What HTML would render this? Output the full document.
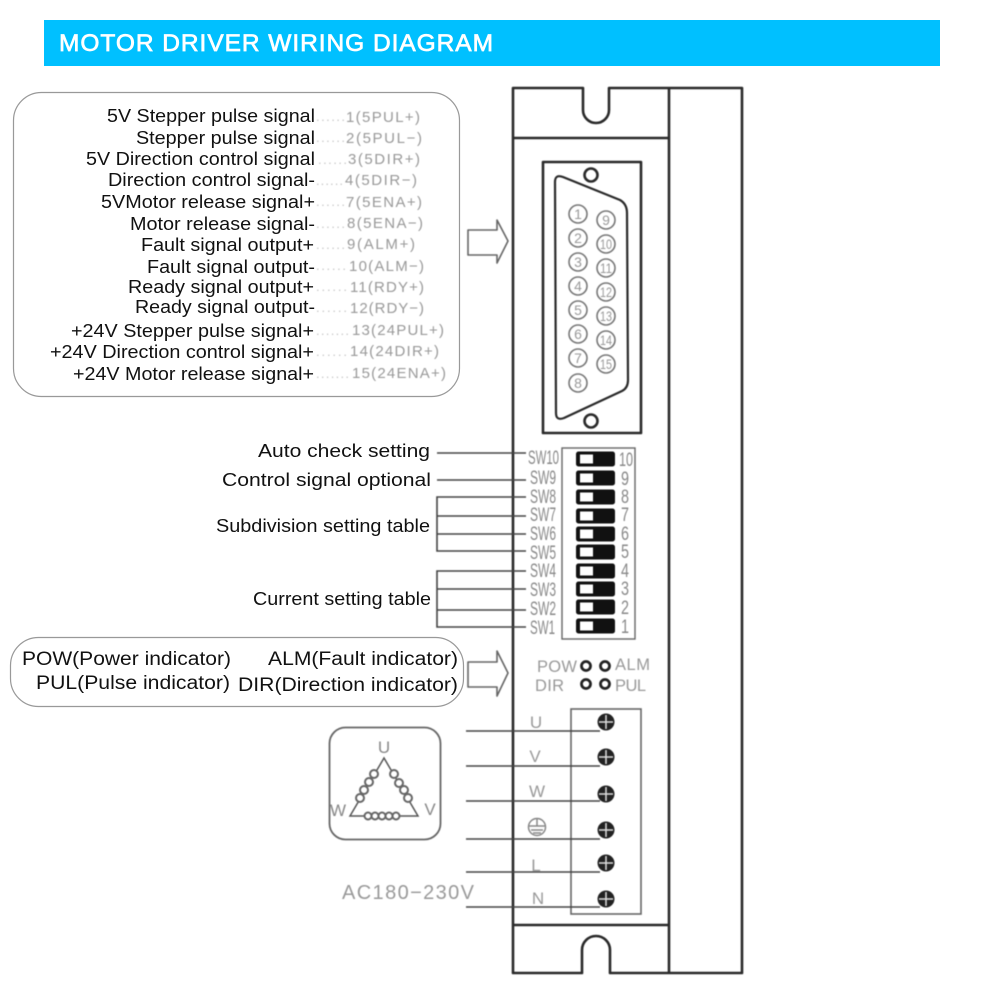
<!DOCTYPE html>
<html lang="en"><head><meta charset="utf-8"><title>Motor Driver Wiring Diagram</title>
<style>
html,body{margin:0;padding:0;background:#fff}
svg{display:block}
text{font-family:"Liberation Sans",sans-serif}
.b text{font-size:18.5px;fill:#111}
.g text{font-size:15px;fill:#999}
.d text{font-size:13px;fill:#c4c4c4}
.p circle{fill:#fff;stroke:#777;stroke-width:1.6}
.p text{font-size:14px;fill:#999;text-anchor:middle}
.sw rect.o{fill:#111;stroke:#111;stroke-width:1}
.sw rect.i{fill:#fff}
.sl text{font-size:19px;fill:#888;text-anchor:middle}
.soft{filter:blur(.45px)}
</style></head><body>
<svg width="1001" height="1001" viewBox="0 0 1001 1001" xmlns="http://www.w3.org/2000/svg">
<rect width="1001" height="1001" fill="#fff"/>
<rect x="44" y="20" width="896" height="46" fill="#00c0ff"/>
<text x="59" y="51" font-size="24.5" fill="#fff" textLength="434" lengthAdjust="spacing" style="stroke:#fff;stroke-width:.7">MOTOR DRIVER WIRING DIAGRAM</text>

<rect x="13.5" y="92.5" width="446" height="304" rx="28" fill="#fff" stroke="#999" stroke-width="1.2"/>
<g class="b">
<text x="107" y="122" textLength="208" lengthAdjust="spacingAndGlyphs">5V Stepper pulse signal</text>
<text x="136" y="144" textLength="179" lengthAdjust="spacingAndGlyphs">Stepper pulse signal</text>
<text x="86" y="165" textLength="229" lengthAdjust="spacingAndGlyphs">5V Direction control signal</text>
<text x="108" y="186" textLength="207" lengthAdjust="spacingAndGlyphs">Direction control signal-</text>
<text x="101" y="208" textLength="214" lengthAdjust="spacingAndGlyphs">5VMotor release signal+</text>
<text x="130" y="230" textLength="185" lengthAdjust="spacingAndGlyphs">Motor release signal-</text>
<text x="141" y="251" textLength="173" lengthAdjust="spacingAndGlyphs">Fault signal output+</text>
<text x="147" y="273" textLength="168" lengthAdjust="spacingAndGlyphs">Fault signal output-</text>
<text x="128" y="293" textLength="186" lengthAdjust="spacingAndGlyphs">Ready signal output+</text>
<text x="135" y="313" textLength="180" lengthAdjust="spacingAndGlyphs">Ready signal output-</text>
<text x="71" y="337" textLength="243" lengthAdjust="spacingAndGlyphs">+24V Stepper pulse signal+</text>
<text x="50" y="358" textLength="264" lengthAdjust="spacingAndGlyphs">+24V Direction control signal+</text>
<text x="73" y="380" textLength="241" lengthAdjust="spacingAndGlyphs">+24V Motor release signal+</text>
</g>
<g class="soft">
<g class="d">
<text x="316" y="121" textLength="29">......</text><text x="316" y="142" textLength="29">......</text><text x="318" y="164" textLength="29">......</text><text x="316" y="185" textLength="27">......</text><text x="316" y="206" textLength="29">......</text><text x="316" y="228" textLength="29">......</text><text x="316" y="249" textLength="29">......</text><text x="316" y="270" textLength="30">......</text><text x="316" y="291" textLength="31">......</text><text x="316" y="312" textLength="31">......</text><text x="316" y="335" textLength="33">.......</text><text x="316" y="356" textLength="31">......</text><text x="316" y="378" textLength="33">.......</text>
</g>
<g class="g">
<text x="346" y="122" textLength="74">1(5PUL+)</text>
<text x="346" y="143" textLength="76">2(5PUL−)</text>
<text x="348" y="164" textLength="72">3(5DIR+)</text>
<text x="345" y="185" textLength="72">4(5DIR−)</text>
<text x="346" y="207" textLength="76">7(5ENA+)</text>
<text x="347" y="228" textLength="76">8(5ENA−)</text>
<text x="347" y="249" textLength="68">9(ALM+)</text>
<text x="349" y="271" textLength="75">10(ALM−)</text>
<text x="350" y="292" textLength="74">11(RDY+)</text>
<text x="350" y="313" textLength="74">12(RDY−)</text>
<text x="352" y="335" textLength="92">13(24PUL+)</text>
<text x="350" y="356" textLength="89">14(24DIR+)</text>
<text x="352" y="378" textLength="94">15(24ENA+)</text>
</g>
<path d="M468 230H497V220L508 241L497 263V255H468Z" fill="#fff" stroke="#666" stroke-width="1.6" stroke-linejoin="round"/>

<g fill="none" stroke="#2a2a2a" stroke-width="2.6" stroke-linejoin="round">
<path d="M513 88H583V110A13 13 0 0 0 609 110V88H742V973H610V950A14 14 0 0 0 582 950V973H513Z"/>
<path d="M669 88V973M513 138H669M513 925H669"/>
<rect x="543" y="162" width="98" height="271"/>
<path d="M555 182Q555 174 563 177L620 200Q627 204 627 213L628 380Q628 388 622 391L564 418Q556 421 556 413Z" stroke-width="2.2"/>
<circle cx="591" cy="175" r="6.5"/><circle cx="591" cy="421" r="6.5"/>
</g>
<g class="p">
<circle cx="578" cy="214" r="9"/><text x="578" y="219">1</text>
<circle cx="578" cy="238" r="9"/><text x="578" y="243">2</text>
<circle cx="578" cy="262" r="9"/><text x="578" y="267">3</text>
<circle cx="578" cy="286" r="9"/><text x="578" y="291">4</text>
<circle cx="578" cy="310" r="9"/><text x="578" y="315">5</text>
<circle cx="578" cy="334" r="9"/><text x="578" y="339">6</text>
<circle cx="578" cy="358" r="9"/><text x="578" y="363">7</text>
<circle cx="578" cy="383" r="9"/><text x="578" y="388">8</text>
<circle cx="606" cy="220" r="9"/><text x="606" y="225">9</text>
<circle cx="606" cy="244" r="9"/><text x="606" y="249" textLength="12" lengthAdjust="spacingAndGlyphs">10</text>
<circle cx="606" cy="268" r="9"/><text x="606" y="273" textLength="12" lengthAdjust="spacingAndGlyphs">11</text>
<circle cx="606" cy="292" r="9"/><text x="606" y="297" textLength="12" lengthAdjust="spacingAndGlyphs">12</text>
<circle cx="606" cy="316" r="9"/><text x="606" y="321" textLength="12" lengthAdjust="spacingAndGlyphs">13</text>
<circle cx="606" cy="340" r="9"/><text x="606" y="345" textLength="12" lengthAdjust="spacingAndGlyphs">14</text>
<circle cx="606" cy="364" r="9"/><text x="606" y="369" textLength="12" lengthAdjust="spacingAndGlyphs">15</text>
</g>
</g>

<g font-size="18.5" fill="#111">
<text x="258" y="457" textLength="172" lengthAdjust="spacingAndGlyphs">Auto check setting</text>
<text x="222" y="486" textLength="209" lengthAdjust="spacingAndGlyphs">Control signal optional</text>
<text x="216" y="532" textLength="214" lengthAdjust="spacingAndGlyphs">Subdivision setting table</text>
<text x="253" y="605" textLength="178" lengthAdjust="spacingAndGlyphs">Current setting table</text>
</g>
<g class="soft">
<path fill="none" stroke="#444" stroke-width="1.6" d="M437 453H526M437 480H526M526 497H437V551H526M437 516H526M437 534H526M526 571H437V627H526M437 589H526M437 610H526"/>
<g class="sl">
<text x="528" y="464" style="text-anchor:start" textLength="31" lengthAdjust="spacingAndGlyphs">SW10</text>
<text x="530" y="484" style="text-anchor:start" textLength="26" lengthAdjust="spacingAndGlyphs">SW9</text>
<text x="530" y="503" style="text-anchor:start" textLength="26" lengthAdjust="spacingAndGlyphs">SW8</text>
<text x="530" y="521" style="text-anchor:start" textLength="26" lengthAdjust="spacingAndGlyphs">SW7</text>
<text x="530" y="540" style="text-anchor:start" textLength="26" lengthAdjust="spacingAndGlyphs">SW6</text>
<text x="530" y="559" style="text-anchor:start" textLength="26" lengthAdjust="spacingAndGlyphs">SW5</text>
<text x="530" y="577" style="text-anchor:start" textLength="26" lengthAdjust="spacingAndGlyphs">SW4</text>
<text x="530" y="596" style="text-anchor:start" textLength="26" lengthAdjust="spacingAndGlyphs">SW3</text>
<text x="530" y="615" style="text-anchor:start" textLength="26" lengthAdjust="spacingAndGlyphs">SW2</text>
<text x="530" y="634" style="text-anchor:start" textLength="25" lengthAdjust="spacingAndGlyphs">SW1</text>
</g>
<rect x="562" y="448" width="73" height="191" fill="none" stroke="#666" stroke-width="1.4"/>
<g class="sw">
<rect class="o" x="576.5" y="452" width="38" height="14" rx="2"/><rect class="i" x="580" y="454.5" width="13" height="9"/>
<rect class="o" x="576.5" y="471" width="38" height="14" rx="2"/><rect class="i" x="580" y="473.5" width="13" height="9"/>
<rect class="o" x="576.5" y="490" width="38" height="14" rx="2"/><rect class="i" x="580" y="492.5" width="13" height="9"/>
<rect class="o" x="576.5" y="509" width="38" height="14" rx="2"/><rect class="i" x="580" y="511.5" width="13" height="9"/>
<rect class="o" x="576.5" y="527" width="38" height="14" rx="2"/><rect class="i" x="580" y="529.5" width="13" height="9"/>
<rect class="o" x="576.5" y="545" width="38" height="14" rx="2"/><rect class="i" x="580" y="547.5" width="13" height="9"/>
<rect class="o" x="576.5" y="564" width="38" height="14" rx="2"/><rect class="i" x="580" y="566.5" width="13" height="9"/>
<rect class="o" x="576.5" y="582" width="38" height="14" rx="2"/><rect class="i" x="580" y="584.5" width="13" height="9"/>
<rect class="o" x="576.5" y="600" width="38" height="14" rx="2"/><rect class="i" x="580" y="602.5" width="13" height="9"/>
<rect class="o" x="576.5" y="619" width="38" height="14" rx="2"/><rect class="i" x="580" y="621.5" width="13" height="9"/>
</g>
<g class="sl">
<text x="619" y="466" style="text-anchor:start" textLength="14" lengthAdjust="spacingAndGlyphs">10</text>
<text x="621" y="485" style="text-anchor:start" textLength="8" lengthAdjust="spacingAndGlyphs">9</text>
<text x="621" y="503" style="text-anchor:start" textLength="8" lengthAdjust="spacingAndGlyphs">8</text>
<text x="621" y="521" style="text-anchor:start" textLength="8" lengthAdjust="spacingAndGlyphs">7</text>
<text x="621" y="540" style="text-anchor:start" textLength="8" lengthAdjust="spacingAndGlyphs">6</text>
<text x="621" y="558" style="text-anchor:start" textLength="8" lengthAdjust="spacingAndGlyphs">5</text>
<text x="621" y="577" style="text-anchor:start" textLength="8" lengthAdjust="spacingAndGlyphs">4</text>
<text x="621" y="595" style="text-anchor:start" textLength="8" lengthAdjust="spacingAndGlyphs">3</text>
<text x="621" y="614" style="text-anchor:start" textLength="8" lengthAdjust="spacingAndGlyphs">2</text>
<text x="621" y="633" style="text-anchor:start" textLength="8" lengthAdjust="spacingAndGlyphs">1</text>
</g>
</g>

<rect x="10.5" y="637.5" width="453" height="69" rx="28" fill="#fff" stroke="#999" stroke-width="1.2"/>
<g font-size="19" fill="#111">
<text x="22" y="665" textLength="209" lengthAdjust="spacingAndGlyphs">POW(Power indicator)</text>
<text x="36" y="689" textLength="194" lengthAdjust="spacingAndGlyphs">PUL(Pulse indicator)</text>
<text x="268" y="665" textLength="190" lengthAdjust="spacingAndGlyphs">ALM(Fault indicator)</text>
<text x="238" y="691" textLength="220" lengthAdjust="spacingAndGlyphs">DIR(Direction indicator)</text>
</g>
<g class="soft">
<path d="M468 662H497V651L508 673L497 696V687H468Z" fill="#fff" stroke="#666" stroke-width="1.6" stroke-linejoin="round"/>
<g font-size="16.5" fill="#999">
<text x="537" y="672" textLength="40">POW</text>
<text x="535" y="691" textLength="29">DIR</text>
<text x="615" y="670" textLength="35">ALM</text>
<text x="615" y="691" textLength="31">PUL</text>
</g>
<g fill="none" stroke="#222" stroke-width="2.8">
<circle cx="586" cy="666" r="4.5"/><circle cx="605" cy="666" r="4.5"/><circle cx="586" cy="684" r="4.5"/><circle cx="605" cy="684" r="4.5"/>
</g>

<rect x="329.5" y="727.5" width="111" height="112" rx="16" fill="none" stroke="#666" stroke-width="1.8"/>
<path d="M384 758L350 816H418Z" fill="none" stroke="#555" stroke-width="1.5"/>
<g fill="#fff" stroke="#666" stroke-width="2">
<circle cx="374" cy="774" r="4"/><circle cx="369" cy="782" r="4"/><circle cx="364" cy="790" r="4"/><circle cx="360" cy="798" r="4"/>
<circle cx="394" cy="774" r="4"/><circle cx="399" cy="783" r="4"/><circle cx="404" cy="790" r="4"/><circle cx="408" cy="798" r="4"/>
<circle cx="368" cy="816" r="3.5"/><circle cx="375" cy="816" r="3.5"/><circle cx="382" cy="816" r="3.5"/><circle cx="389" cy="816" r="3.5"/><circle cx="396" cy="816" r="3.5"/>
</g>
<g font-size="17" fill="#888" text-anchor="middle">
<text x="384" y="753">U</text><text x="338" y="816">W</text><text x="430" y="815">V</text>
</g>
<text x="342" y="899" font-size="20" fill="#999" textLength="132">AC180−230V</text>

<rect x="571" y="709" width="70" height="205" fill="none" stroke="#666" stroke-width="1.6"/>
<g font-size="17" fill="#999" text-anchor="middle">
<text x="536" y="728">U</text><text x="535" y="762">V</text><text x="537" y="797">W</text><text x="536" y="871">L</text><text x="538" y="904">N</text>
</g>
<g fill="none" stroke="#888" stroke-width="1.5"><circle cx="537" cy="827" r="8.5"/><path d="M537 818V826M529 826H545M531 830H543M533 833H541"/></g>
<path d="M466 731H600M466 766H600M466 801H600M466 839H600M466 872H600M466 907H600" stroke="#444" stroke-width="1.5" fill="none"/>
<circle cx="606" cy="722" r="8.5" fill="#222"/><path d="M599 722H613M606 715V729" stroke="#ddd" stroke-width="1.5"/>
<circle cx="606" cy="757" r="8.5" fill="#222"/><path d="M599 757H613M606 750V764" stroke="#ddd" stroke-width="1.5"/>
<circle cx="606" cy="794" r="8.5" fill="#222"/><path d="M599 794H613M606 787V801" stroke="#ddd" stroke-width="1.5"/>
<circle cx="606" cy="830" r="8.5" fill="#222"/><path d="M599 830H613M606 823V837" stroke="#ddd" stroke-width="1.5"/>
<circle cx="606" cy="863" r="8.5" fill="#222"/><path d="M599 863H613M606 856V870" stroke="#ddd" stroke-width="1.5"/>
<circle cx="606" cy="899" r="8.5" fill="#222"/><path d="M599 899H613M606 892V906" stroke="#ddd" stroke-width="1.5"/>
</g>
</svg>
</body></html>
